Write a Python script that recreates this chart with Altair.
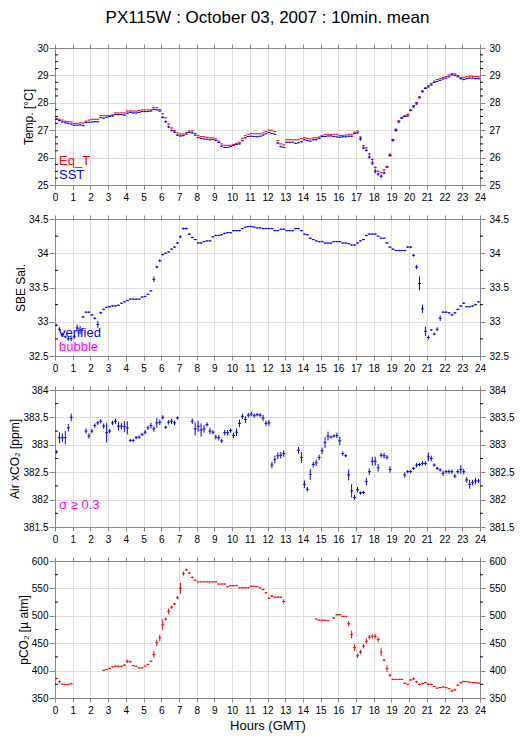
import altair as alt
import pandas as pd

# ---------------- data (10-minute means, 144 bins per series) ----------------
HOUR_TICKS = list(range(0, 25))

TEMP_TICKS = [25, 26, 27, 28, 29, 30]
SAL_TICKS = [32.5, 33, 33.5, 34, 34.5]
XCO2_TICKS = [381.5, 382, 382.5, 383, 383.5, 384]
PCO2_TICKS = [350, 400, 450, 500, 550, 600]

EQ_T = [
    27.43, 27.40, 27.37, 27.33, 27.31, 27.30,
    27.25, 27.25, 27.27, 27.26, 27.33, 27.37,
    27.40, 27.40, 27.40, 27.53, 27.53, 27.53,
    27.53, 27.56, 27.63, 27.63, 27.63, 27.63,
    27.70, 27.70, 27.70, 27.70, 27.72, 27.74,
    27.74, 27.74, 27.74, 27.82, 27.82, 27.75,
    27.60, 27.45, 27.22, 27.08, 26.98, 26.90,
    26.86, 26.86, 26.92, 26.97, 26.97, 26.88,
    26.80, 26.77, 26.76, 26.74, 26.72, 26.72,
    26.68, 26.60, 26.50, 26.45, 26.45, 26.45,
    26.48, 26.52, 26.56, 26.70, 26.80, 26.85,
    26.87, 26.87, 26.87, 26.87, 26.90, 26.95,
    27.00, 27.00, 26.95, 26.62, 26.50, 26.46,
    26.65, 26.65, 26.65, 26.65, 26.65, 26.70,
    26.72, 26.70, 26.68, 26.72, 26.72, 26.75,
    26.80, 26.85, 26.85, 26.85, 26.85, 26.85,
    26.80, 26.80, 26.82, 26.85, 26.85, 26.93,
    26.97, 26.75, 26.43, 26.35, 26.13, 25.93,
    25.64, 25.50, 25.45, 25.55, 25.68, 26.10,
    26.65, 27.01, 27.34, 27.47, 27.53, 27.58,
    27.74, 27.90, 28.01, 28.22, 28.44, 28.55,
    28.62, 28.70, 28.79, 28.85, 28.88, 28.93,
    28.96, 29.02, 29.07, 29.05, 29.00, 28.93,
    28.93, 28.95, 28.97, 28.97, 28.96, 28.95,
]
EQ_T_SD = [
    .01, .01, .01, .01, .01, .01,
    .01, .01, .01, .01, .01, .01,
    .01, .01, .01, .01, .01, .01,
    .01, .01, .01, .01, .01, .01,
    .01, .01, .01, .01, .01, .01,
    .01, .01, .01, .01, .01, .01,
    .02, .02, .02, .01, .01, .01,
    .01, .01, .01, .01, .01, .01,
    .01, .01, .01, .01, .01, .01,
    .01, .01, .01, .01, .01, .01,
    .01, .01, .01, .01, .01, .01,
    .01, .01, .01, .01, .01, .01,
    .01, .01, .01, .02, .01, .01,
    .01, .01, .01, .01, .01, .01,
    .01, .01, .01, .01, .01, .01,
    .01, .01, .01, .01, .01, .01,
    .01, .01, .01, .01, .01, .01,
    .01, .02, .03, .02, .03, .04,
    .04, .02, .02, .02, .02, .08,
    .04, .05, .02, .02, .02, .02,
    .01, .02, .01, .01, .01, .01,
    .01, .01, .01, .01, .01, .01,
    .01, .01, .01, .01, .01, .01,
    .01, .01, .01, .01, .01, .01,
]
SST = [
    27.40, 27.35, 27.30, 27.27, 27.25, 27.22,
    27.18, 27.18, 27.20, 27.17, 27.28, 27.29,
    27.30, 27.31, 27.31, 27.46, 27.44, 27.47,
    27.50, 27.52, 27.57, 27.57, 27.57, 27.55,
    27.62, 27.65, 27.63, 27.63, 27.65, 27.68,
    27.68, 27.68, 27.70, 27.76, 27.74, 27.70,
    27.47, 27.31, 27.12, 26.99, 26.93, 26.82,
    26.79, 26.80, 26.86, 26.92, 26.90, 26.82,
    26.73, 26.70, 26.68, 26.67, 26.65, 26.66,
    26.62, 26.55, 26.42, 26.37, 26.37, 26.40,
    26.44, 26.48, 26.50, 26.62, 26.72, 26.77,
    26.78, 26.77, 26.76, 26.78, 26.82, 26.87,
    26.91, 26.88, 26.85, 26.53, 26.40, 26.37,
    26.56, 26.56, 26.56, 26.52, 26.54, 26.58,
    26.65, 26.62, 26.60, 26.65, 26.65, 26.70,
    26.77, 26.77, 26.79, 26.79, 26.77, 26.75,
    26.74, 26.76, 26.76, 26.78, 26.78, 26.88,
    26.90, 26.68, 26.35, 26.26, 26.02, 25.80,
    25.50, 25.40, 25.32, 25.44, 25.65, 26.08,
    26.63, 27.00, 27.30, 27.44, 27.50, 27.52,
    27.72, 27.85, 27.96, 28.18, 28.40, 28.52,
    28.58, 28.65, 28.74, 28.78, 28.82, 28.87,
    28.90, 28.95, 29.02, 29.00, 28.95, 28.88,
    28.85, 28.88, 28.90, 28.90, 28.88, 28.88,
]
SST_SD = [
    .02, .02, .02, .02, .02, .02,
    .02, .02, .03, .03, .02, .02,
    .02, .02, .02, .02, .02, .02,
    .02, .02, .02, .02, .02, .03,
    .02, .02, .02, .02, .02, .02,
    .02, .02, .02, .02, .02, .02,
    .04, .05, .04, .03, .03, .03,
    .02, .02, .02, .02, .02, .02,
    .02, .02, .02, .02, .02, .02,
    .02, .02, .03, .02, .02, .02,
    .02, .02, .02, .02, .02, .02,
    .02, .02, .02, .02, .02, .02,
    .02, .02, .02, .04, .03, .02,
    .02, .02, .02, .02, .02, .02,
    .02, .02, .02, .02, .02, .02,
    .02, .02, .02, .02, .02, .02,
    .02, .02, .02, .02, .02, .02,
    .02, .06, .03, .04, .06, .08,
    .08, .06, .07, .05, .03, .04,
    .05, .06, .04, .03, .02, .02,
    .03, .03, .03, .02, .02, .02,
    .02, .02, .02, .02, .02, .02,
    .02, .02, .02, .02, .02, .03,
    .03, .02, .02, .02, .02, .02,
]

SAL = [
    32.95, 32.89, 32.82, 32.78, 32.75, 32.75,
    32.78, 32.91, 32.88, 33.07, 33.14, 33.14,
    33.10, 33.05, 32.96, 33.13, 33.18, 33.21,
    33.22, 33.23, 33.23, 33.24, 33.27, 33.29,
    33.31, 33.33, 33.33, 33.33, 33.33, 33.36,
    33.37, 33.40, 33.45, 33.62, 33.80, 33.89,
    33.98, 34.00, 34.02, 34.06, 34.09, 34.15,
    34.24, 34.36, 34.36, 34.28, 34.23, 34.20,
    34.15, 34.15, 34.17, 34.18, 34.18, 34.24,
    34.26, 34.26, 34.27, 34.29, 34.30, 34.30,
    34.33, 34.33, 34.33, 34.36, 34.38, 34.39,
    34.39, 34.38, 34.37, 34.37, 34.36, 34.36,
    34.36, 34.36, 34.33, 34.33, 34.35, 34.35,
    34.33, 34.33, 34.33, 34.36, 34.36, 34.33,
    34.28, 34.27, 34.22, 34.20, 34.18, 34.17,
    34.17, 34.15, 34.15, 34.15, 34.17, 34.17,
    34.17, 34.15, 34.15, 34.14, 34.12, 34.12,
    34.15, 34.18, 34.20, 34.26, 34.28, 34.28,
    34.28, 34.25, 34.22, 34.22, 34.15, 34.09,
    34.06, 34.04, 34.04, 34.04, 34.04, 34.09,
    34.09, 33.97, 33.80, 33.56, 33.19, 32.86,
    32.77, 32.88, 32.82, 32.89, 33.05, 33.14,
    33.14, 33.13, 33.10, 33.13, 33.18, 33.23,
    33.27, 33.22, 33.22, 33.23, 33.25, 33.29,
]
SAL_SD = [
    .012, .03, .02, .02, .03, .03,
    .03, .05, .06, .015, .012, .012,
    .012, .015, .05, .015, .012, .012,
    .01, .01, .01, .01, .01, .01,
    .01, .01, .01, .01, .01, .01,
    .01, .01, .012, .04, .02, .02,
    .012, .01, .01, .01, .012, .015,
    .02, .015, .015, .012, .012, .01,
    .01, .01, .01, .01, .01, .012,
    .01, .01, .01, .01, .01, .01,
    .01, .01, .01, .01, .01, .01,
    .01, .01, .01, .01, .01, .01,
    .01, .01, .01, .01, .01, .01,
    .01, .01, .01, .01, .01, .01,
    .01, .01, .01, .01, .01, .01,
    .01, .01, .01, .01, .01, .01,
    .01, .01, .01, .01, .01, .01,
    .01, .01, .01, .01, .01, .01,
    .01, .01, .01, .01, .015, .012,
    .01, .01, .01, .01, .01, .012,
    .015, .02, .03, .1, .06, .07,
    .03, .012, .02, .03, .04, .012,
    .012, .012, .012, .015, .012, .015,
    .012, .01, .01, .01, .012, .01,
]

XCO2 = [
    382.87, 383.13, 383.13, 383.13, 383.31, 383.50,
    None, None, None, None, 383.25, 383.16,
    383.25, 383.35, 383.40, 383.43, 383.34, 383.22,
    383.25, 383.40, 383.43, 383.34, 383.34, 383.33,
    383.31, 383.08, 383.08, 383.13, 383.14, 383.19,
    383.23, 383.31, 383.35, 383.29, 383.40, 383.41,
    383.50, 383.32, 383.41, 383.43, 383.40, 383.49,
    None, None, None, None, 383.43, 383.29,
    383.34, 383.27, 383.29, 383.37, 383.25, 383.23,
    383.14, 383.13, 383.07, 383.22, 383.22, 383.26,
    383.17, 383.23, 383.39, 383.52, 383.46, 383.54,
    383.56, 383.53, 383.55, 383.54, 383.49, 383.39,
    383.40, 382.63, 382.73, 382.80, 382.81, 382.84,
    None, None, None, None, 382.90, 382.77,
    382.28, 382.19, 382.46, 382.64, 382.67, 382.77,
    382.89, 383.04, 383.16, 383.14, 383.16, 383.17,
    383.07, 382.84, 382.80, 382.45, 382.16, 382.04,
    382.18, 382.12, 382.13, 382.33, 382.51, 382.70,
    382.70, 382.58, 382.81, 382.80, 382.77, 382.55,
    None, None, None, None, 382.45, 382.51,
    382.51, 382.57, 382.63, 382.64, 382.66, 382.66,
    382.78, 382.75, 382.63, 382.57, 382.54, 382.48,
    382.51, 382.51, 382.51, 382.43, 382.51, 382.55,
    382.51, 382.36, 382.28, 382.31, 382.34, 382.34,
]
XCO2_SD = [
    .03, .10, .08, .12, .07, .07,
    0, 0, 0, 0, .05, .05,
    .04, .04, .04, .04, .05, .18,
    .04, .04, .05, .08, .06, .10,
    .12, .03, .03, .03, .03, .03,
    .04, .04, .05, .05, .09, .05,
    .04, .03, .04, .05, .04, .03,
    0, 0, 0, 0, .05, .12,
    .10, .12, .07, .04, .06, .04,
    .04, .05, .04, .05, .05, .04,
    .05, .07, .07, .05, .06, .04,
    .04, .04, .03, .04, .06, .05,
    .05, .06, .07, .06, .06, .06,
    0, 0, 0, 0, .06, .10,
    .07, .04, .10, .05, .06, .05,
    .06, .10, .08, .03, .03, .05,
    .08, .04, .03, .10, .12, .05,
    .05, .03, .03, .07, .06, .08,
    .08, .07, .04, .05, .04, .06,
    0, 0, 0, 0, .05, .03,
    .03, .03, .04, .03, .04, .04,
    .08, .05, .03, .03, .03, .05,
    .03, .04, .04, .04, .04, .08,
    .05, .05, .08, .05, .06, .04,
]

PCO2 = [
    385.5, 379.5, 375.3, 375.0, 375.0, 376.0,
    None, None, None, None, None, None,
    None, None, None, None, 400.6, 402.0,
    404.0, 407.0, 408.0, 408.0, 408.0, 410.0,
    417.0, 416.0, 409.0, 408.0, 405.0, 405.0,
    408.0, 411.0, 417.0, 429.5, 450.6, 459.6,
    483.7, 494.0, 508.0, 515.7, 521.7, 533.0,
    550.0, 577.0, 584.0, 578.0, 570.0, 565.0,
    562.0, 562.0, 562.0, 562.0, 562.0, 562.0,
    562.0, 558.0, 558.0, 558.0, 553.0, 555.0,
    555.0, 555.0, 551.0, 551.0, 551.0, 551.0,
    554.0, 554.0, 553.0, 551.0, 548.0, 542.0,
    532.0, 536.0, 534.0, 534.0, 534.0, 526.0,
    None, None, None, None, None, None,
    None, None, None, None, 494.0, 492.0,
    492.0, 492.0, 491.0, None, 496.0, 502.0,
    502.0, 499.0, 499.0, 485.5, 466.0, 442.0,
    427.0, 434.0, 444.6, 453.6, 461.0, 462.6,
    462.6, 456.6, 434.0, 419.0, 403.6, 391.6,
    384.0, 384.0, 384.0, 384.0, 377.0, 375.0,
    383.0, 385.0, 379.5, 375.0, 376.5, 378.0,
    375.0, 375.0, 371.0, 368.0, 369.0, 370.0,
    369.0, 367.0, 363.0, 365.0, 373.5, 378.0,
    380.0, 380.0, 379.0, 378.0, 378.0, 377.0,
]
PCO2_SD = [
    1.5, 2.5, 1, 1, 1, 1.5,
    0, 0, 0, 0, 0, 0,
    0, 0, 0, 0, 1, 1,
    1.5, 1, 1, 1, 1, 1.5,
    3, 2, 1, 1, 1, 1,
    1, 1.5, 1.5, 6, 6, 6,
    10, 3, 5, 3, 2, 3,
    10, 4, 2, 2, 2, 1.5,
    1, 1, 1, 1, 1, 1,
    1, 1, 1, 1, 1, 1,
    1, 1, 1, 1, 1, 1,
    1, 1, 1, 1, 1.5, 1.5,
    1.5, 2, 1.5, 1.5, 1.5, 4,
    0, 0, 0, 0, 0, 0,
    0, 0, 0, 0, 1, 1,
    1, 1, 1, 0, 1.5, 1.5,
    1.5, 1, 1, 5, 7, 6,
    4, 4, 4, 5, 4, 4,
    4, 5, 7, 2, 6, 3,
    1.5, 1, 1, 1, 1.5, 1,
    2, 2.5, 2, 1.5, 1, 1,
    1.5, 1, 1, 1, 1, 1,
    1, 1, 2, 2, 2, 2,
    1.5, 1, 1, 1, 1, 1,
]

TITLE = "PX115W : October 03, 2007 : 10min. mean"

# ---------------- styling ----------------
W, H = 425, 137
FONT = "Liberation Sans"
RED, BLUE, MAGENTA = "#ff0000", "#0000ff", "#ff00ff"
LABEL_EXPR = "'' + datum.value"


def minor_ticks(major, parts):
    out = []
    for a, b in zip(major[:-1], major[1:]):
        step = (b - a) / parts
        out += [a + k * step for k in range(1, parts)]
    return out


def build_frame(series):
    rows = []
    for name, vals, sds in series:
        for i, (v, s) in enumerate(zip(vals, sds)):
            if v is None:
                continue
            t = i / 6 + 1 / 12
            rows.append(dict(series=name, t=t, x0=t - 1 / 12, x1=t + 1 / 12,
                             v=v, lo=v - s, hi=v + s))
    return pd.DataFrame(rows)


def panel(series, colors, ydom, yticks, minor, ytitle, notes, xtitle=None, title=None):
    df = build_frame(series)
    names = [s[0] for s in series]
    xs = alt.Scale(domain=[0, 24], nice=False, zero=False)
    ys = alt.Scale(domain=ydom, nice=False, zero=False)
    col = alt.Color("series:N", scale=alt.Scale(domain=names, range=colors), legend=None)

    bottom_axis = alt.Axis(orient="bottom", values=HOUR_TICKS, labelExpr=LABEL_EXPR,
                           tickSize=4, labelPadding=3, labelFlush=False,
                           labelOverlap=False,
                           title=xtitle if xtitle else None, titlePadding=4,
                           titleFontWeight="normal", titleFontSize=13)
    hbar = alt.Chart(df).mark_rule(strokeWidth=1).encode(
        x=alt.X("x0:Q", scale=xs, axis=bottom_axis),
        x2="x1:Q",
        y=alt.Y("v:Q", scale=ys,
                axis=alt.Axis(orient="left", values=yticks, labelExpr=LABEL_EXPR,
                              tickSize=6, labelPadding=1, title=ytitle,
                              titlePadding=1, titleFontWeight="normal",
                              titleFontSize=12, labelFlush=False)),
        color=col,
    )
    vbar = alt.Chart(df).mark_rule(strokeWidth=1).encode(
        x=alt.X("t:Q", scale=xs,
                axis=alt.Axis(orient="top", values=HOUR_TICKS, labels=False,
                              tickSize=4, title=None)),
        y=alt.Y("lo:Q", scale=ys,
                axis=alt.Axis(orient="right", values=yticks, labelExpr=LABEL_EXPR,
                              tickSize=5, labelPadding=4, title=None,
                              labelFlush=False)),
        y2="hi:Q",
        color=col,
    )
    mdf = pd.DataFrame({"m": minor})
    mleft = alt.Chart(mdf).mark_rule(color="black", strokeWidth=1).encode(
        y=alt.Y("m:Q", scale=ys, axis=None), x=alt.value(0), x2=alt.value(3))
    mright = alt.Chart(mdf).mark_rule(color="black", strokeWidth=1).encode(
        y=alt.Y("m:Q", scale=ys, axis=None), x=alt.value(W), x2=alt.value(W + 3))

    layers = [hbar, vbar, mleft, mright]
    for text, color, ypix in notes:
        layers.append(
            alt.Chart(pd.DataFrame({"label": [text]})).mark_text(
                align="left", baseline="alphabetic", font=FONT, fontSize=13,
                color=color).encode(text="label:N", x=alt.value(4), y=alt.value(ypix))
        )
    if title:
        layers.append(
            alt.Chart(pd.DataFrame({"label": [title]})).mark_text(
                align="center", baseline="middle", font=FONT, fontSize=17,
                color="black").encode(text="label:N", x=alt.value(W / 2),
                                      y=alt.value(-30))
        )
    return alt.layer(*layers).properties(width=W, height=H)


p1 = panel([("Eq_T", EQ_T, EQ_T_SD), ("SST", SST, SST_SD)], [RED, BLUE],
           [25, 30], TEMP_TICKS, minor_ticks(TEMP_TICKS, 4), "Temp. [°C]",
           [("Eq_T", RED, H - 20), ("SST", BLUE, H - 6)], title=TITLE)
p2 = panel([("SBE Sal.", SAL, SAL_SD)], [BLUE],
           [32.5, 34.5], SAL_TICKS, minor_ticks(SAL_TICKS, 2), "SBE Sal.",
           [("verified", BLUE, H - 19), ("bubble", MAGENTA, H - 5)])
p3 = panel([("Air xCO2", XCO2, XCO2_SD)], [BLUE],
           [381.5, 384], XCO2_TICKS, minor_ticks(XCO2_TICKS, 2), "Air xCO₂ [ppm]",
           [("σ ≥ 0.3", MAGENTA, H - 18)])
p4 = panel([("pCO2", PCO2, PCO2_SD)], [RED],
           [350, 600], PCO2_TICKS, minor_ticks(PCO2_TICKS, 2), "pCO₂ [µ atm]",
           [], xtitle="Hours (GMT)")

chart = alt.vconcat(p1, p2, p3, p4, spacing=34, bounds="flush").resolve_scale(
    color="independent"
).properties(
    padding={"left": 0, "top": 0, "right": 0, "bottom": 0},
).configure_view(stroke=None).configure_axis(
    labelFont=FONT, labelFontSize=12, labelColor="black",
    titleFont=FONT, titleFontSize=12, titleFontWeight="normal", titleColor="black",
    domainColor="black", tickColor="black", grid=False,
).configure(background="white")

chart.save("out.html", embed_options={"renderer": "svg", "actions": False})
